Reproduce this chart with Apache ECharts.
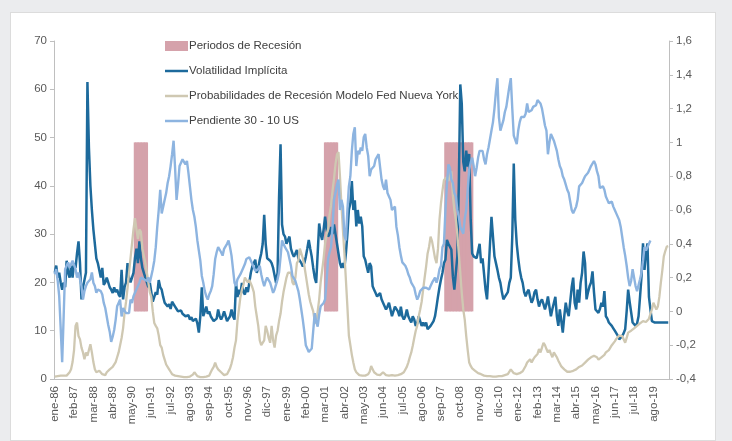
<!DOCTYPE html>
<html>
<head>
<meta charset="utf-8">
<script src="https://cdn.jsdelivr.net/npm/echarts@6/dist/echarts.min.js"></script>
<style>
  html, body { margin: 0; padding: 0; background: #ebecee; }
  #chart {
    position: absolute; left: 10px; top: 12px;
    width: 706px; height: 429px;
    background: #fff; border: 1px solid #dcdcdc; box-sizing: border-box;
  }
</style>
</head>
<body>
<div id="chart"></div>
<script>
// meses (ene-86 ... jun-20)
const monthNames = ["ene", "feb", "mar", "abr", "may", "jun", "jul", "ago", "sep", "oct", "nov", "dic"];
const firstYear = 1986;
const lastYear = 2020;
const lastMonth = 6; // jun-20

// periodos de recesion (inicio, fin); altura = 1 en el eje derecho
const recesiones = [
  ["jul-90", "mar-91"],
  ["mar-01", "nov-01"],
  ["dic-07", "jun-09"],
];
const alturaRecesion = 1;

// Volatilidad Implicita (eje izq.), un renglon por año
const volatilidad = [
  22, 23.5, 21, 22, 20, 18.5, 20, 19, 24.5, 22, 21, 23.5,
  21, 24, 23, 26, 28.5, 24, 16.5, 19, 20.5, 22, 61.5, 48,
  40, 35, 31, 28, 25, 24, 22.5, 21, 23, 19.5, 20, 21,
  20, 19, 18.5, 17.8, 19, 18, 18.5, 17.5, 17, 22.6, 16.5, 19,
  20, 24, 21, 20, 21, 22, 25, 27, 24, 28.5, 25, 23,
  22, 21, 20, 19, 20, 18, 16, 17, 18, 17.5, 20.5, 19,
  18.5, 17, 15.8, 16, 15, 15.5, 14.5, 16, 16.4, 15, 14.5, 14,
  13.7, 14.2, 13.5, 13.7, 13, 12.7, 13.2, 12.3, 12.8, 12, 11.6, 12.5,
  11.5, 9.6, 13, 19, 13, 14, 15, 13.5, 14, 13, 13, 12,
  11.6, 12.5, 14.4, 13, 12.3, 13, 14, 13, 12, 12.5, 13, 14.4,
  13, 12.3, 19.9, 17, 18.5, 17.5, 19.9, 18, 17.5, 19, 18, 20,
  22, 23.3, 24, 24.7, 22, 23, 24.7, 26, 28, 34, 28, 25,
  25, 24.5, 24, 23, 22.6, 19.9, 22, 37.7, 48.6, 32, 30, 29.5,
  28, 28.8, 29.5, 27, 26, 25.3, 26, 26.7, 25, 25.3, 24, 23.3,
  24, 25.3, 27, 28.8, 27, 25.3, 23, 21, 19.9, 26, 32.2, 30,
  28.8, 31, 33.6, 31, 29.5, 30, 31.5, 30, 32, 30, 28, 26,
  24, 23, 24, 23, 26, 30, 35, 36.4, 41, 35, 37, 31.6,
  35, 32.2, 33.6, 31.6, 25.4, 24.7, 23.3, 22, 24, 23.3, 19.2, 18.5,
  17.8, 17.1, 17, 17.8, 16.5, 15.8, 15.5, 14.4, 15, 15.8, 14.4, 13,
  14, 15, 15, 14, 13, 15, 13, 12.3, 13, 14.4, 13, 12.3,
  11.7, 13, 12.3, 11, 11.5, 13, 12, 11, 11.7, 11, 11.7, 10.3,
  10.3, 11, 11, 12, 13, 15, 17.1, 19, 20.6, 22, 24, 24.7,
  28.8, 28, 28, 26.8, 21.3, 18.5, 22, 25.4, 40, 61, 57, 45,
  43, 47.3, 44, 46.6, 33, 26, 25.4, 25.4, 25, 24.7, 28, 24,
  25, 24.7, 18.5, 16.5, 22, 28, 33.6, 29.5, 25.4, 24, 22.6, 21,
  19.9, 18, 16.5, 17, 17.1, 18, 19.9, 21, 29.5, 44.6, 33, 28,
  25, 22.6, 21, 19.9, 18, 17.1, 18, 18.5, 17, 15.8, 16.5, 18,
  18.5, 16.5, 15, 16, 16.5, 15.5, 14.4, 15.5, 17.1, 15, 13, 14.5,
  14.4, 17, 13, 11, 14.4, 12, 9.6, 13, 15.8, 14, 13, 16,
  19, 21, 15.8, 14.4, 18.5, 15.8, 19.9, 22, 26.4, 24, 16.5, 18,
  19.2, 20, 22.3, 18, 14.4, 14, 13.7, 14.5, 15.8, 15, 18.2, 13,
  12.5, 11.7, 11.5, 11, 10.5, 10, 9.6, 9, 8.2, 8.5, 8.9, 9.5,
  10.3, 14, 18.5, 16, 15.8, 11.7, 11.5, 11, 11.5, 13, 17, 21.3,
  28.1, 22.6, 26, 28.1, 17, 14.4, 12, 11.7, 11.7, 11.7, 11.7, 11.7,
  11.7, 11.7, 11.7, 11.7, 11.7, 11.7,
];

// Probabilidades de Recesion Modelo Fed Nueva York (eje izq., %)
const probabilidades = [
  0.5, 0.5, 0.6, 0.5, 0.7, 0.6, 0.7, 0.8, 0.7, 1.0, 1.4, 2.0,
  3.5, 6, 11, 11.7, 8.9, 8.2, 6.5, 5.5, 4.1, 5.5, 4.8, 6,
  7.2, 5.5, 3.5, 2, 1.4, 1.5, 1.7, 1.5, 1, 0.7, 0.8, 1.4,
  1.5, 2, 2, 2.5, 2.7, 3.5, 4.5, 5.5, 7, 8.5, 10.5, 13.7,
  16, 18.8, 22, 25, 28, 31, 33.3, 31, 29, 31, 30.5, 27,
  25.5, 24, 22, 20, 18, 17, 14, 11.6, 11, 10.5, 9, 7,
  6.5, 5, 4, 3, 2.7, 2, 1.5, 1, 0.7, 0.7, 0.7, 0.6,
  0.5, 0.5, 0.4, 0.4, 0.5, 0.4, 0.4, 0.5, 0.6, 0.9, 1.4, 1.0,
  0.6, 0.5, 0.4, 0.4, 0.4, 0.5, 0.5, 0.6, 0.7, 1.4, 2, 2.5,
  3.4, 2.5, 2.0, 1.6, 1.4, 1.0, 0.8, 0.8, 1.0, 1.4, 2.2, 3.2,
  4.5, 6.5, 8, 12, 14.5, 17, 18.5, 19.5, 21, 20.5, 20, 20.5,
  20.5, 19, 18, 15, 13, 11, 8, 7, 7, 8, 11, 10,
  8.5, 7.5, 11, 8, 6.5, 9, 10, 12, 13.5, 16, 18, 18,
  21, 22, 22, 22, 20, 19.5, 21, 24, 24.5, 27, 27, 25,
  23.5, 21.5, 19.5, 17.5, 16, 15, 14, 12, 11.5, 14, 16.5, 20,
  22.5, 25, 28, 30, 31, 34, 36, 39, 41.5, 44.5, 46.5, 47,
  42, 36, 30.8, 26, 20.5, 15, 9, 7, 5, 3.4, 2, 1.4,
  1.0, 0.8, 0.7, 0.7, 0.7, 0.7, 0.8, 1.0, 1.5, 2.7, 2.0, 1.4,
  1.2, 0.9, 0.8, 0.8, 1.0, 1.4, 1.0, 0.8, 0.7, 0.7, 0.7, 0.8,
  0.8, 0.7, 0.7, 0.8, 0.9, 1.0, 1.2, 1.4, 1.8, 2.5, 3.4, 4.5,
  5.5, 6.9, 8.5, 10, 11, 13, 14.4, 16, 18.5, 21, 23.3, 26,
  27.4, 29.5, 28.5, 26.8, 25, 24, 27, 33, 36.4, 39, 41.2, 41.5,
  41.8, 41, 42, 43, 38, 35, 33, 30, 26, 22, 17.8, 14.4,
  12.3, 8.9, 6, 3.4, 2.7, 2.2, 2, 1.7, 1.4, 1.2, 1.2, 1.0,
  0.8, 0.7, 0.7, 0.6, 0.6, 0.6, 0.5, 0.5, 0.5, 0.5, 0.5, 0.6,
  0.6, 0.6, 0.7, 0.8, 0.9, 1.0, 1.4, 2.0, 1.6, 1.2, 1.0, 1.0,
  1.0, 1.2, 1.4, 1.6, 2, 2.7, 3.4, 3.8, 4.1, 3.4, 4, 4.5,
  4.8, 5.2, 6.2, 5.5, 6.5, 7.5, 7, 6.2, 5.5, 6, 5.2, 4.5,
  5.5, 5, 4.5, 3.8, 3.2, 2.6, 2.2, 2, 1.7, 1.5, 1.4, 1.5,
  1.6, 1.7, 1.8, 2, 2.2, 2.5, 2.5, 2.8, 3.2, 3.4, 3.6, 4,
  4.3, 4.5, 4.2, 4.8, 5, 4.5, 4, 4.3, 4.5, 4.8, 5, 5.5,
  5.8, 6, 6.5, 7, 7.4, 7.8, 8.3, 8.6, 9, 9.2, 8.9, 8.5,
  7.5, 8.5, 9.6, 9.8, 10, 10.3, 10.5, 10.8, 11, 11.3, 11.5, 11.7,
  12, 11.7, 11.8, 12, 12.5, 13.5, 14.4, 15.8, 15.5, 14.4, 15, 17,
  19.9, 22.5, 25.4, 26.5, 27.4, 27.5,
];

// Pendiente 30 - 10 US (eje der.)
const pendiente = [
  0.22, 0.25, 0.18, 0.09, -0.1, -0.3, -0.03, 0.25, 0.27, 0.29, 0.26, 0.27,
  0.3, 0.31, 0.25, 0.2, 0.23, 0.19, 0.15, 0.07, 0.12, 0.15, 0.17, 0.18,
  0.19, 0.23, 0.17, 0.15, 0.11, 0.13, 0.13, 0.12, 0.1, 0.05, 0.02, -0.03,
  -0.08, -0.12, -0.18, -0.15, -0.11, -0.05, 0.03, 0.05, 0.07, -0.03, 0.02, 0.01,
  -0.01, 0.0, -0.01, 0.07, 0.05, 0.09, 0.11, 0.11, 0.15, 0.17, 0.2, 0.19,
  0.19, 0.19, 0.18, 0.2, 0.17, 0.21, 0.25, 0.3, 0.38, 0.5, 0.6, 0.72,
  0.58, 0.62, 0.66, 0.7, 0.76, 0.8, 0.86, 0.93, 1.01, 0.85, 0.66, 0.75,
  0.86, 0.88, 0.9, 0.91, 0.87, 0.89, 0.82, 0.74, 0.66, 0.6, 0.56, 0.5,
  0.42, 0.36, 0.3, 0.21, 0.17, 0.12, 0.09, 0.07, 0.1, 0.12, 0.15, 0.22,
  0.31, 0.35, 0.38, 0.37, 0.35, 0.33, 0.37, 0.38, 0.4, 0.42, 0.38, 0.33,
  0.25, 0.17, 0.15, 0.19, 0.2, 0.22, 0.23, 0.26, 0.28, 0.31, 0.3, 0.32,
  0.31, 0.28, 0.26, 0.24, 0.23, 0.25, 0.27, 0.22, 0.18, 0.15, 0.18, 0.2,
  0.21, 0.17, 0.14, 0.11, 0.13, 0.16, 0.19, 0.23, 0.32, 0.42, 0.4, 0.38,
  0.38, 0.35, 0.31, 0.27, 0.21, 0.2, 0.18, 0.17, 0.12, 0.07, 0.01, -0.05,
  -0.12, -0.2, -0.22, -0.24, -0.24, -0.22, -0.22, -0.01, -0.06, -0.09, -0.02, 0.03,
  0.04, 0.05, 0.07, 0.18, 0.31, 0.35, 0.38, 0.5, 0.66, 0.7, 0.75, 0.78,
  0.6, 0.66, 0.62, 0.45, 0.42, 0.6, 0.74, 0.8, 0.95, 1.05, 1.09, 0.86,
  0.95, 0.93, 0.97, 0.95, 1.03, 1.05, 0.97, 0.92, 0.8, 0.84, 0.84, 0.86,
  0.9, 0.91, 0.93, 0.93, 0.78, 0.74, 0.72, 0.78, 0.7, 0.68, 0.66, 0.6,
  0.6, 0.62, 0.5, 0.45, 0.38, 0.33, 0.29, 0.28, 0.27, 0.25, 0.22, 0.2,
  0.17, 0.17, 0.14, 0.1, 0.07, 0.09, 0.12, 0.13, 0.14, 0.15, 0.14, 0.13,
  0.13, 0.15, 0.17, 0.17, 0.2, 0.17, 0.2, 0.25, 0.27, 0.38, 0.4, 0.6,
  0.75, 0.87, 0.85, 0.78, 0.76, 0.7, 0.68, 0.6, 0.56, 0.5, 0.48, 0.46,
  0.55, 0.6, 0.72, 0.84, 0.88, 0.91, 0.86, 0.8, 0.85, 0.91, 0.95, 0.94,
  0.95, 0.9, 0.87, 0.93, 0.97, 1.02, 1.07, 1.12, 1.2, 1.3, 1.38, 1.15,
  1.07, 1.08, 1.13, 1.18, 1.21, 1.27, 1.33, 1.38, 1.2, 1.04, 1.03, 0.99,
  1.07, 1.12, 1.15, 1.16, 1.15, 1.17, 1.23, 1.18, 1.17, 1.19, 1.21, 1.2,
  1.22, 1.25, 1.24, 1.23, 1.2, 1.15, 1.1, 1.07, 0.93, 1.0, 1.05, 1.03,
  1.01, 0.98, 0.95, 0.9, 0.86, 0.84, 0.8, 0.78, 0.75, 0.72, 0.7, 0.69,
  0.6, 0.58, 0.6, 0.62, 0.66, 0.74, 0.75, 0.76, 0.78, 0.8, 0.81, 0.82,
  0.84, 0.86, 0.86, 0.89, 0.87, 0.83, 0.8, 0.73, 0.72, 0.74, 0.72, 0.68,
  0.66, 0.64, 0.64, 0.65, 0.62, 0.6, 0.58, 0.57, 0.54, 0.5, 0.44, 0.38,
  0.33, 0.27, 0.2, 0.15, 0.18, 0.25, 0.2, 0.15, 0.12, 0.13, 0.19, 0.23,
  0.3, 0.38, 0.36, 0.38, 0.4, 0.42,
];

const categories = [];
for (let y = firstYear; y <= lastYear; y++) {
  for (let m = 0; m < 12; m++) {
    if (y === lastYear && m >= lastMonth) break;
    categories.push(monthNames[m] + "-" + String(y).slice(2));
  }
}

// barras de recesion
const recesionData = categories.map(() => "-");
recesiones.forEach(([a, b]) => {
  const i0 = categories.indexOf(a);
  const i1 = categories.indexOf(b);
  for (let i = i0; i <= i1; i++) recesionData[i] = alturaRecesion;
});

const font = "Liberation Sans";
const axisColor = "#bfbfbf";
const labelColor = "#595959";
const pink = "#d5a2ab";
const lineIcon = "path://M0,0 H24 V2.6 H0 Z";

const chart = echarts.init(document.getElementById("chart"));
chart.setOption({
  animation: false,
  textStyle: { fontFamily: font },
  grid: { left: 43, right: 46, top: 28, bottom: 61 },
  legend: {
    orient: "vertical",
    left: 149,
    top: 22,
    itemWidth: 23,
    itemHeight: 10,
    itemGap: 13,
    textStyle: { fontFamily: font, fontSize: 11.5, color: "#404040", padding: [0, 0, 0, -4] },
    data: [
      { name: "Periodos de Recesión", icon: "rect" },
      { name: "Volatilidad Implícita", icon: lineIcon },
      { name: "Probabilidades de Recesión Modelo Fed Nueva York", icon: lineIcon },
      { name: "Pendiente 30 - 10 US", icon: lineIcon },
    ],
  },
  xAxis: {
    type: "category",
    data: categories,
    boundaryGap: true,
    axisLine: { onZero: false, lineStyle: { color: axisColor } },
    axisTick: { interval: 12, alignWithLabel: true, length: 4, lineStyle: { color: axisColor } },
    axisLabel: {
      interval: 12,
      rotate: 90,
      margin: 7,
      fontSize: 11.5,
      color: labelColor,
    },
    splitLine: { show: false },
  },
  yAxis: [
    {
      type: "value",
      min: 0,
      max: 70,
      interval: 10,
      axisLine: { show: true, lineStyle: { color: axisColor } },
      axisTick: { show: true, length: 4, lineStyle: { color: axisColor } },
      axisLabel: { fontSize: 11.5, color: labelColor, margin: 7 },
      splitLine: { show: false },
    },
    {
      type: "value",
      min: -0.4,
      max: 1.6,
      interval: 0.2,
      position: "right",
      axisLine: { show: true, lineStyle: { color: axisColor } },
      axisTick: { show: true, length: 4, lineStyle: { color: axisColor } },
      axisLabel: {
        fontSize: 11.5,
        color: labelColor,
        margin: 7,
        formatter: (v) => String(Math.round(v * 10) / 10).replace(".", ","),
      },
      splitLine: { show: false },
    },
  ],
  series: [
    {
      name: "Periodos de Recesión",
      type: "bar",
      yAxisIndex: 1,
      data: recesionData,
      barWidth: 2.4,
      itemStyle: { color: pink },
    },
    {
      name: "Volatilidad Implícita",
      type: "line",
      yAxisIndex: 0,
      data: volatilidad,
      symbol: "none",
      lineStyle: { color: "#1d6a9c", width: 2.5 },
      itemStyle: { color: "#1d6a9c" },
    },
    {
      name: "Probabilidades de Recesión Modelo Fed Nueva York",
      type: "line",
      yAxisIndex: 0,
      data: probabilidades,
      symbol: "none",
      lineStyle: { color: "#cfc8b2", width: 2.3 },
      itemStyle: { color: "#cfc8b2" },
    },
    {
      name: "Pendiente 30 - 10 US",
      type: "line",
      yAxisIndex: 1,
      data: pendiente,
      symbol: "none",
      lineStyle: { color: "#8db4e0", width: 2.4 },
      itemStyle: { color: "#8db4e0" },
    },
  ],
});
</script>
</body>
</html>
